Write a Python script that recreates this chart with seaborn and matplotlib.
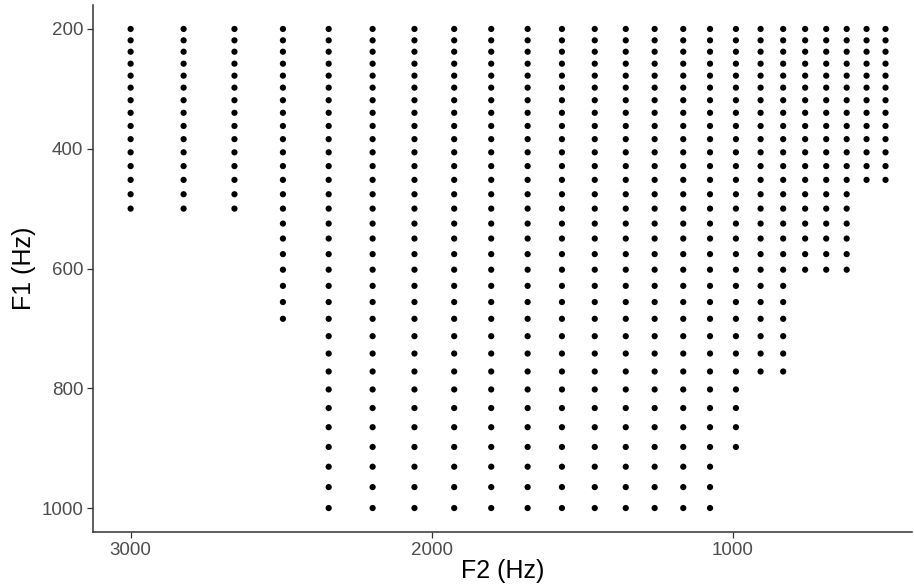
import matplotlib
matplotlib.use("Agg")
import matplotlib.pyplot as plt
import seaborn as sns
import pandas as pd

# F2 columns (Hz)
f2_values = [3000, 2824, 2655, 2494, 2342, 2196, 2057, 1925, 1802, 1681, 1567, 1458,
             1355, 1259, 1164, 1075, 989, 907, 832, 759, 689, 621, 555, 492]
# highest F1 (Hz) reached in each column
f1_max = [500, 500, 500, 684, 1000, 1000, 1000, 1000, 1000, 1000, 1000, 1000,
          1000, 1000, 1000, 1000, 898, 772, 772, 602, 602, 602, 452, 452]
# F1 rows (Hz)
f1_rows = [200, 219, 238, 258, 278, 298, 319, 340, 362, 384, 406, 429, 452, 476,
           500, 525, 550, 576, 602, 629, 656, 684, 713, 742, 772, 802, 833, 865,
           898, 931, 965, 1000]
x_ticks = [3000, 2000, 1000]
y_ticks = [200, 400, 600, 800, 1000]

records = []
for f2, top in zip(f2_values, f1_max):
    for f1 in f1_rows:
        if f1 <= top:
            records.append({"F2": f2, "F1": f1})
df = pd.DataFrame(records)

sns.set_theme(style="white")
plt.rcParams["font.family"] = ["Liberation Sans", "DejaVu Sans"]

fig = plt.figure(figsize=(9.14, 5.85), dpi=100)
ax = fig.add_axes([93 / 914, 53 / 585, (912 - 93) / 914, (580 - 53) / 585])

sns.scatterplot(data=df, x="F2", y="F1", ax=ax, color="black", s=20,
                edgecolor="none", linewidth=0, legend=False)

ax.set_xlim(3125, 404)
ax.set_ylim(1040, 160)
ax.set_xticks(x_ticks)
ax.set_yticks(y_ticks)
ax.set_xticklabels([str(v) for v in x_ticks])
ax.set_yticklabels([str(v) for v in y_ticks])

for side in ["top", "right"]:
    ax.spines[side].set_visible(False)
for side in ["left", "bottom"]:
    ax.spines[side].set_color("#333333")
    ax.spines[side].set_linewidth(1.1)

ax.tick_params(axis="both", which="major", length=4, width=0.9, color="#333333",
               labelsize=13.5, labelcolor="#4D4D4D", pad=3, left=True, bottom=True)
ax.set_xlabel("F2 (Hz)", fontsize=18, color="black", labelpad=0)
ax.set_ylabel("F1 (Hz)", fontsize=18, color="black", labelpad=4)
ax.grid(False)

fig.savefig("out.png", dpi=100)
